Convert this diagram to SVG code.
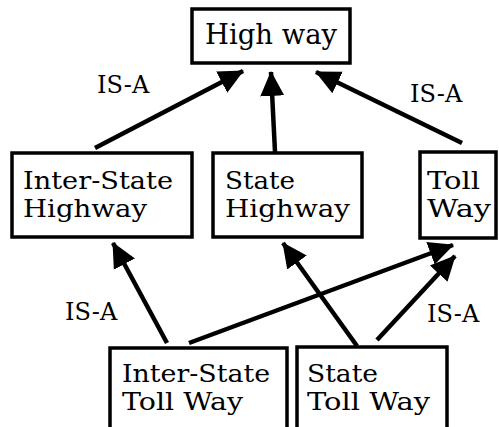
<svg xmlns="http://www.w3.org/2000/svg" width="499" height="427" viewBox="0 0 499 427">
<defs>
<marker id="ah" markerUnits="userSpaceOnUse" markerWidth="26" markerHeight="26" viewBox="0 0 26 26" refX="24" refY="13" orient="auto">
<path d="M0,1 L25,13 L0,25 Z" fill="#000"/>
</marker>
</defs>
<style>
.box{fill:#fff;stroke:#000;stroke-width:3.5}
.h{font-family:"DejaVu Serif","Liberation Serif",serif;font-size:27.5px;fill:#000}
.t{font-family:"DejaVu Serif","Liberation Serif",serif;font-size:24px;fill:#000}
.l{font-family:"DejaVu Serif","Liberation Serif",serif;font-size:24px;fill:#000}
.c{stroke:#000;stroke-width:4.5;fill:none;marker-end:url(#ah)}
</style>
<rect width="499" height="427" fill="#fff"/>
<g id="connectors">
<line class="c" x1="95" y1="148" x2="243" y2="71"/>
<line class="c" x1="275" y1="152" x2="271" y2="72"/>
<line class="c" x1="462" y1="143" x2="316" y2="72"/>
<line class="c" x1="167" y1="343" x2="113" y2="243"/>
<line class="c" x1="189" y1="343" x2="453" y2="245"/>
<line class="c" x1="357" y1="346" x2="283" y2="243"/>
<line class="c" x1="377" y1="340" x2="455" y2="256"/>
<text class="l" x="97" y="93">IS-A</text>
<text class="l" x="410" y="102">IS-A</text>
<text class="l" x="65" y="320">IS-A</text>
<text class="l" x="427" y="322">IS-A</text>
</g>
<g id="highway">
<rect class="box" x="192" y="9" width="158" height="54"/>
<text class="h" x="205" y="44" textLength="132" lengthAdjust="spacingAndGlyphs">High way</text>
</g>
<g id="interstate-highway">
<rect class="box" x="12" y="153" width="180" height="84"/>
<text class="t" x="23" y="189" textLength="150" lengthAdjust="spacingAndGlyphs">Inter-State</text>
<text class="t" x="23" y="217" textLength="124" lengthAdjust="spacingAndGlyphs">Highway</text>
</g>
<g id="state-highway">
<rect class="box" x="213" y="153" width="149" height="84"/>
<text class="t" x="225" y="189" textLength="70" lengthAdjust="spacingAndGlyphs">State</text>
<text class="t" x="225" y="217" textLength="125" lengthAdjust="spacingAndGlyphs">Highway</text>
</g>
<g id="toll-way">
<rect class="box" x="420" y="152" width="76" height="86"/>
<text class="t" x="427" y="189" textLength="53" lengthAdjust="spacingAndGlyphs">Toll</text>
<text class="t" x="427" y="217" textLength="64" lengthAdjust="spacingAndGlyphs">Way</text>
</g>
<g id="interstate-toll-way">
<rect class="box" x="110" y="348" width="177" height="90"/>
<text class="t" x="122" y="382" textLength="148" lengthAdjust="spacingAndGlyphs">Inter-State</text>
<text class="t" x="122" y="410" textLength="121" lengthAdjust="spacingAndGlyphs">Toll Way</text>
</g>
<g id="state-toll-way">
<rect class="box" x="297" y="347" width="150" height="90"/>
<text class="t" x="307" y="382" textLength="71" lengthAdjust="spacingAndGlyphs">State</text>
<text class="t" x="307" y="410" textLength="123" lengthAdjust="spacingAndGlyphs">Toll Way</text>
</g>
</svg>
